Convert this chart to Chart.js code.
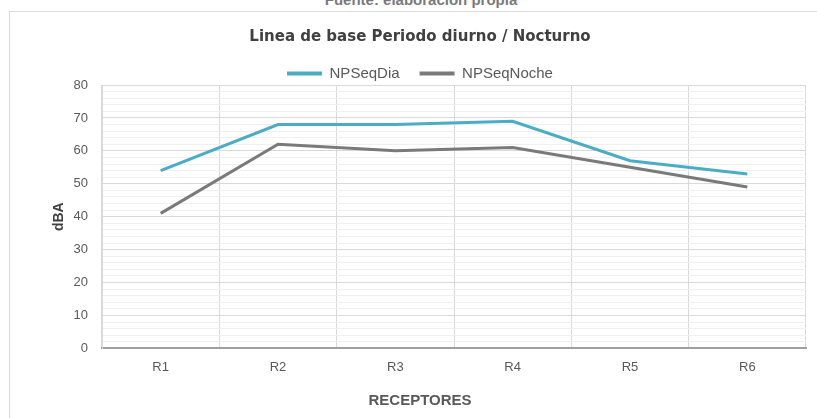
<!DOCTYPE html>
<html>
<head>
<meta charset="utf-8">
<script src="https://cdn.jsdelivr.net/npm/chart.js@4"></script>
<style>
  html, body { margin:0; padding:0; background:#fff; width:817px; height:418px; overflow:hidden; position:relative; }
  #frame { position:absolute; left:9px; top:11px; width:840px; height:460px; border:1px solid #d9d9d9; box-sizing:border-box; }
  #src { position:absolute; left:0; width:842px; top:-9px; text-align:center; font:bold 15px "Liberation Sans", Arial, sans-serif; color:#7a7a7a; }
  #wrap { position:absolute; left:10px; top:12px; width:822px; height:406px; }
</style>
</head>
<body>
<div id="src">Fuente: elaboración propia</div>
<div id="frame"></div>
<div id="wrap"><canvas id="c"></canvas></div>
<script>
const categories = ['R1', 'R2', 'R3', 'R4', 'R5', 'R6'];
const npseqDia = [54, 68, 68, 69, 57, 53];
const npseqNoche = [41, 62, 60, 61, 55, 49];
const seriesNames = ['NPSeqDia', 'NPSeqNoche'];
const titleText = 'Linea de base Periodo diurno / Nocturno';
const xTitle = 'RECEPTORES';
const yTitle = 'dBA';
const yMin = 0, yMax = 80, yMajor = 10, yMinor = 2;

const FONT = '"Liberation Sans", Arial, sans-serif';
const colors = ['#4bacc6', '#7a7a7a'];

new Chart(document.getElementById('c'), {
  type: 'line',
  data: {
    labels: categories,
    datasets: [
      { label: seriesNames[0], data: npseqDia, borderColor: colors[0], backgroundColor: colors[0], borderWidth: 3, pointRadius: 0, tension: 0 },
      { label: seriesNames[1], data: npseqNoche, borderColor: colors[1], backgroundColor: colors[1], borderWidth: 3, pointRadius: 0, tension: 0 }
    ]
  },
  options: {
    responsive: true,
    maintainAspectRatio: false,
    animation: false,
    layout: { padding: { left: 24, right: 26, top: 0, bottom: 0 } },
    plugins: {
      title: { display: true, text: titleText, color: '#404040', font: { family: '"DejaVu Sans", sans-serif', size: 15, weight: 'bold' }, padding: { top: 16, bottom: 0 } },
      subtitle: { display: true, position: 'bottom', text: xTitle, color: '#595959', font: { family: FONT, size: 15, weight: 'bold' }, padding: { top: 6, bottom: 8 } },
      legend: {
        display: true,
        maxHeight: 39,
        labels: {
          font: { family: FONT, size: 15 },
          color: '#595959',
          boxWidth: 35,
          boxHeight: 4,
          padding: 20,
          generateLabels(chart) {
            return chart.data.datasets.map((ds, i) => ({
              text: ds.label, fillStyle: ds.borderColor, strokeStyle: ds.borderColor, lineWidth: 0,
              hidden: false, datasetIndex: i, fontColor: '#595959'
            }));
          }
        }
      },
      tooltip: { enabled: false }
    },
    scales: {
      x: {
        offset: true,
        grid: { display: true, offset: true, color: '#d9d9d9', drawTicks: false },
        border: { display: true, color: '#a0a0a0', width: 2 },
        ticks: { color: '#595959', font: { family: FONT, size: 13 }, padding: 11 },
        title: { display: false }
      },
      y: {
        min: yMin, max: yMax,
        afterFit(scale) { scale.width = 68; },
        grid: {
          drawTicks: false,
          color: ctx => (ctx.tick && ctx.tick.value % yMajor === 0) ? '#d9d9d9' : '#f0f0f0'
        },
        border: { display: true, color: '#d9d9d9', width: 1 },
        ticks: {
          stepSize: yMinor,
          autoSkip: false,
          color: '#595959',
          font: { family: FONT, size: 13 },
          padding: 14,
          callback: v => (v % yMajor === 0 ? String(v) : '')
        },
        title: { display: true, text: yTitle, color: '#404040', font: { family: FONT, size: 14, weight: 'bold' }, padding: { top: 17, bottom: 0 } }
      }
    }
  }
});
</script>
</body>
</html>
